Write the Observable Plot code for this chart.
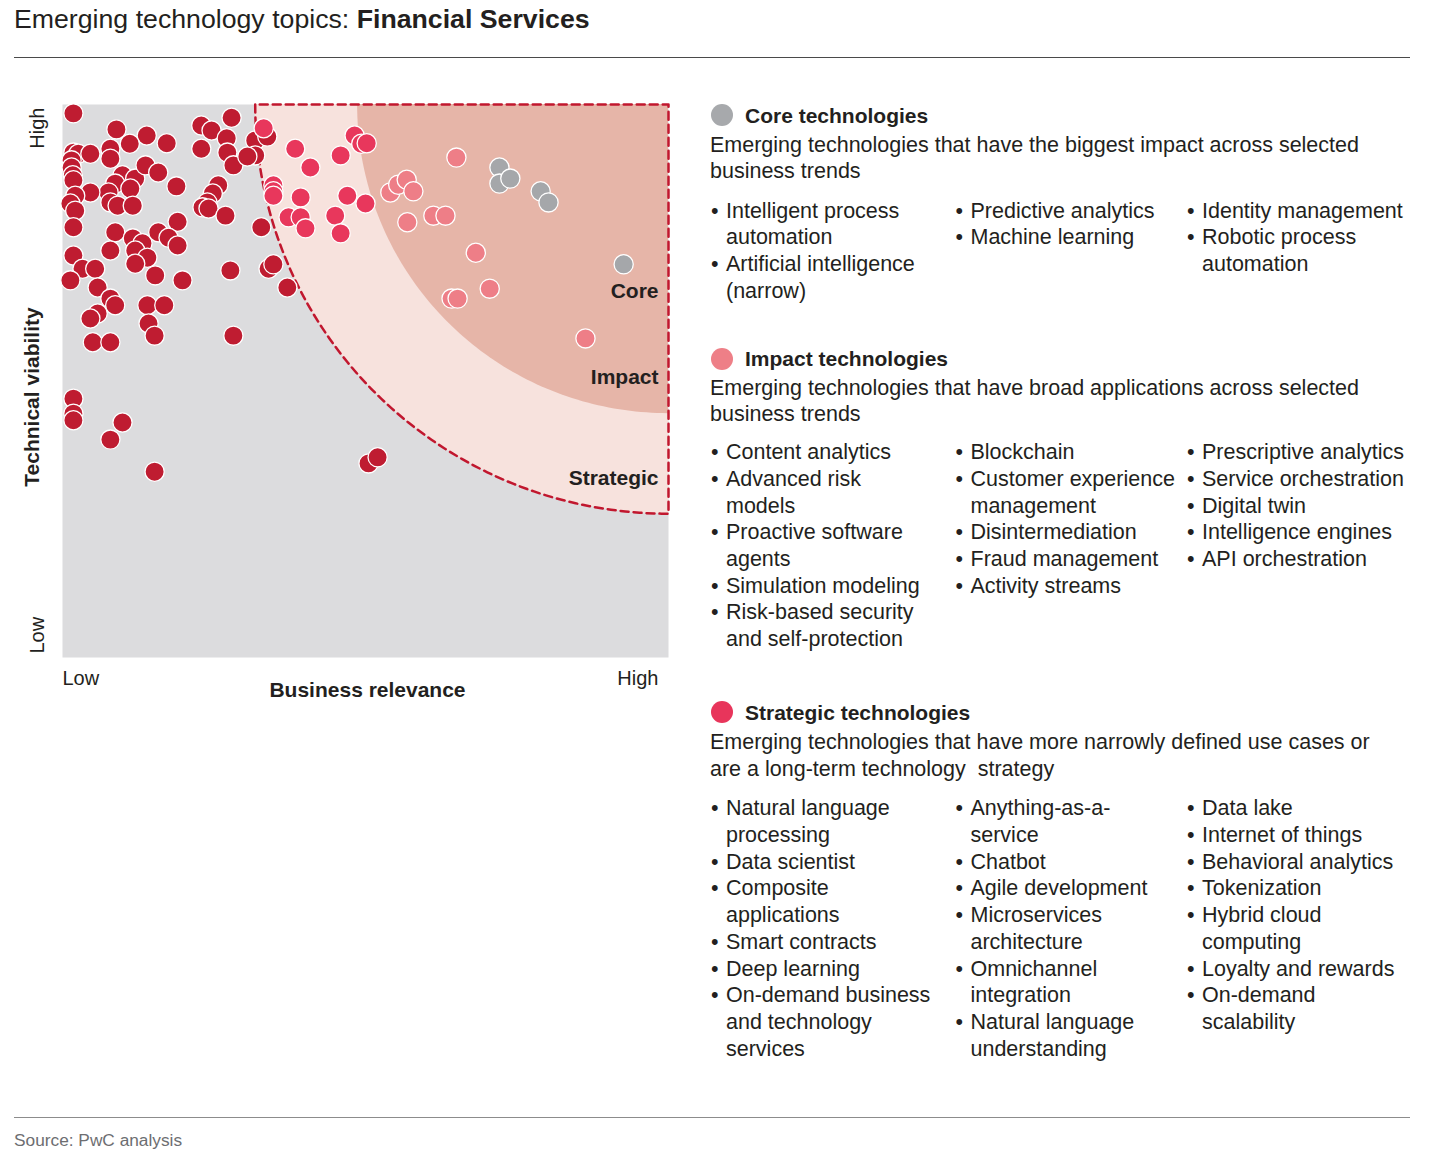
<!DOCTYPE html>
<html>
<head>
<meta charset="utf-8">
<script src="https://cdn.jsdelivr.net/npm/d3@7"></script>
<script src="https://cdn.jsdelivr.net/npm/@observablehq/plot@0.6"></script>
<style>
  html, body { margin: 0; padding: 0; background: #fff; }
  body { font-family: "Liberation Sans", Arial, Helvetica, sans-serif; color: #231f20; }
  #page { position: relative; width: 1438px; height: 1162px; overflow: hidden; }
  .abs { position: absolute; }
  .title { left: 14px; top: 3.5px; font-size: 26.7px; line-height: 31px; white-space: nowrap; }
  .title b { font-weight: bold; }
  .rule { left: 14px; width: 1396px; height: 0; }
  .source { left: 14px; top: 1130px; font-size: 17.3px; line-height: 20px; color: #6d6e71; }
  #chart { left: 0; top: 80px; }
  .head { font-size: 21px; line-height: 26.7px; font-weight: bold; left: 745px; white-space: nowrap; }
  .desc { font-size: 21.5px; line-height: 26.7px; left: 710px; white-space: pre; }
  .col { font-size: 21.5px; line-height: 26.7px; white-space: pre; }
  .item { position: relative; padding-left: 15px; }
  .item::before { content: "\2022"; position: absolute; left: 0; top: 0; }
  .swatch { width: 22px; height: 22px; border-radius: 50%; left: 711px; }
</style>
</head>
<body>
<div id="page">
  <div class="abs title">Emerging technology topics: <b>Financial Services</b></div>
  <div class="abs rule" style="top:57px;border-top:1px solid #4a4a4a"></div>
  <div id="chart" class="abs"></div>
  <div id="legend"></div>
  <div class="abs rule" style="top:1117px;border-top:1.5px solid #8c8c8c"></div>
  <div class="abs source">Source: PwC analysis</div>
</div>
<script>
// ---------- data (x = business relevance, y = technical viability, 0–100) ----------
const otherDots = [
  [1.8,98.4],[27.9,97.6],[8.9,95.5],[13.9,94.4],[11.1,92.9],[17.2,93.0],[7.9,92.0],[7.9,90.2],
  [22.9,96.2],[24.6,95.3],[22.9,92.0],[27.1,93.9],[27.2,91.3],[28.2,89.0],
  [1.8,91.3],[2.6,91.1],[4.6,91.1],[1.5,89.9],[1.5,88.6],[1.7,87.2],[1.8,86.3],
  [9.9,87.2],[12.0,86.6],[13.7,89.0],[15.8,87.7],[8.7,85.7],[11.2,84.8],[7.6,84.1],[4.6,84.1],
  [2.1,83.5],[1.3,82.1],[2.1,80.8],[7.9,82.3],[9.1,81.7],[11.6,81.7],[18.8,85.2],
  [25.7,85.4],[24.8,83.9],[23.9,82.3],[23.1,81.4],[24.1,81.2],[26.9,79.9],
  [1.8,77.8],[32.8,77.8],[19.0,78.8],[8.7,76.9],[11.6,75.8],[13.2,74.9],[15.8,76.9],[17.5,75.9],
  [19.0,74.5],[7.9,73.6],[12.0,73.6],[14.0,72.3],[12.0,71.2],[1.8,72.7],[3.3,70.3],[5.4,70.3],
  [1.3,68.2],[5.8,66.9],[15.3,69.1],[19.8,68.2],[27.7,70.0],[34.0,70.3],[34.8,71.1],
  [7.9,64.9],[8.7,63.7],[5.8,62.2],[4.6,61.3],[5.0,57.0],[7.9,57.0],[14.0,63.7],[16.8,63.7],
  [14.2,60.4],[15.2,58.2],[28.2,58.2],[1.8,46.8],[1.8,44.1],[1.8,42.9],[9.9,42.5],[7.9,39.4],
  [15.2,33.6],[50.5,35.1],[52.0,36.2],[31.8,93.5],[33.8,94.2],[31.8,90.8],[30.5,90.6],[37.1,66.9]
];
const strategicDots = [
  [33.2,95.7],[38.4,92.0],[40.9,88.6],[45.9,90.8],[48.2,94.4],[49.3,92.9],[50.2,93.0],
  [34.8,85.4],[34.8,84.3],[34.8,83.5],[39.3,83.2],[47.0,83.5],[50.0,82.1],
  [37.3,79.6],[39.3,79.6],[40.1,77.6],[45.0,79.9],[45.9,76.7]
];
const impactDots = [
  [65.0,90.4],[54.1,84.1],[55.4,85.5],[56.8,86.4],[57.9,84.3],[56.9,78.7],[61.2,79.9],
  [63.2,79.9],[68.2,73.2],[70.5,66.7],[64.2,64.9],[65.2,64.9],[86.3,57.7]
];
const coreDots = [
  [72.1,88.6],[72.1,85.7],[73.9,86.6],[78.9,84.3],[80.2,82.3],[92.6,71.1]
];
const groups = ["Other", "Strategic", "Impact", "Core"];
const zoneNames = ["Core", "Impact", "Strategic"];
const axisTickLabels = ["Low", "High"];

// legend texts
const sectionTitles = ["Core technologies", "Impact technologies", "Strategic technologies"];
const sectionDescriptions = [
  "Emerging technologies that have the biggest impact across selected\nbusiness trends",
  "Emerging technologies that have broad applications across selected\nbusiness trends",
  "Emerging technologies that have more narrowly defined use cases or\nare a long-term technology  strategy"
];
const coreTopics = [
  ["Intelligent process\nautomation", "Artificial intelligence\n(narrow)"],
  ["Predictive analytics", "Machine learning"],
  ["Identity management", "Robotic process\nautomation"]
];
const impactTopics = [
  ["Content analytics", "Advanced risk\nmodels", "Proactive software\nagents", "Simulation modeling", "Risk-based security\nand self-protection"],
  ["Blockchain", "Customer experience\nmanagement", "Disintermediation", "Fraud management", "Activity streams"],
  ["Prescriptive analytics", "Service orchestration", "Digital twin", "Intelligence engines", "API orchestration"]
];
const strategicTopics = [
  ["Natural language\nprocessing", "Data scientist", "Composite\napplications", "Smart contracts", "Deep learning", "On-demand business\nand technology\nservices"],
  ["Anything-as-a-\nservice", "Chatbot", "Agile development", "Microservices\narchitecture", "Omnichannel\nintegration", "Natural language\nunderstanding"],
  ["Data lake", "Internet of things", "Behavioral analytics", "Tokenization", "Hybrid cloud\ncomputing", "Loyalty and rewards", "On-demand\nscalability"]
];

// ---------- chart ----------
const groupColors = ["#bf1c31", "#e8375c", "#ee7e87", "#a5a7aa"];
const rows = [
  ...otherDots.map(([x, y]) => ({x, y, group: "Other"})),
  ...strategicDots.map(([x, y]) => ({x, y, group: "Strategic"})),
  ...impactDots.map(([x, y]) => ({x, y, group: "Impact"})),
  ...coreDots.map(([x, y]) => ({x, y, group: "Core"}))
];
// zone boundaries: quarter circles (in screen space) around the top-right corner
const arc = (rx, ry) => d3.range(0, 90.5, 1).map(a => {
  const t = a * Math.PI / 180;
  return {x: 100 - rx * Math.cos(t), y: 100 - ry * Math.sin(t)};
});
const outerZone = arc(68.2, 74.0);
const innerZone = arc(51.3, 55.9);
const boundary = [...outerZone, {x: 100, y: 100}, {x: outerZone[0].x, y: 100}];

const chart = Plot.plot({
  width: 700, height: 640,
  marginLeft: 62, marginRight: 32, marginTop: 24, marginBottom: 63,
  x: {domain: [0, 100]},
  y: {domain: [0, 100]},
  color: {domain: groups, range: groupColors},
  style: {fontFamily: '"Liberation Sans", Arial, sans-serif', color: "#231f20", background: "transparent", overflow: "visible"},
  marks: [
    Plot.frame({fill: "#dcdcde"}),
    Plot.areaY(outerZone, {x: "x", y1: "y", y2: 100, fill: "#f7e2dd"}),
    Plot.areaY(innerZone, {x: "x", y1: "y", y2: 100, fill: "#e6b5a8"}),
    Plot.line(boundary, {x: "x", y: "y", stroke: "#c1172e", strokeWidth: 2.5, strokeDasharray: "8,5"}),
    Plot.dot(rows, {x: "x", y: "y", fill: "group", r: 9.6, stroke: "white", strokeWidth: 1.3}),
    Plot.text(zoneNames, {x: 100, y: [66.2, 50.6, 32.5], text: d => d, textAnchor: "end", dx: -10, fontWeight: "bold", fontSize: 21, fill: "#231f20"}),
    Plot.axisX([0], {tickFormat: () => axisTickLabels[0], textAnchor: "start", tickSize: 0, tickPadding: 13, fontSize: 20, label: null, fill: "#231f20"}),
    Plot.axisX([100], {tickFormat: () => axisTickLabels[1], textAnchor: "end", dx: -10, tickSize: 0, tickPadding: 13, fontSize: 20, label: null, fill: "#231f20"}),
    Plot.axisY([0], {tickFormat: () => axisTickLabels[0], rotate: -90, textAnchor: "start", tickSize: 0, tickPadding: 25, dy: -4, fontSize: 20, label: null, fill: "#231f20"}),
    Plot.axisY([100], {tickFormat: () => axisTickLabels[1], rotate: -90, textAnchor: "end", tickSize: 0, tickPadding: 25, dy: 3, fontSize: 20, label: null, fill: "#231f20"}),
    Plot.text(["Technical viability"], {frameAnchor: "left", text: d => d, rotate: -90, textAnchor: "middle", dx: -30, dy: 16, fontWeight: "bold", fontSize: 21, fill: "#231f20"}),
    Plot.text(["Business relevance"], {frameAnchor: "bottom", text: d => d, textAnchor: "middle", dx: 2, dy: 39, fontWeight: "bold", fontSize: 21, fill: "#231f20"})
  ]
});
document.getElementById("chart").appendChild(chart);

// ---------- legend ----------
const legendColors = ["#a7a9ac", "#ee7f87", "#e8355b"];
const layout = [
  {head: 102.7, desc: 131.5, list: 197.5},
  {head: 346.0, desc: 374.5, list: 439.2},
  {head: 699.9, desc: 729.0, list: 795.3}
];
const colLefts = [711, 955.5, 1187];
const topicSets = [coreTopics, impactTopics, strategicTopics];
const legend = document.getElementById("legend");
sectionTitles.forEach((t, i) => {
  const L = layout[i];
  const sw = document.createElement("div");
  sw.className = "abs swatch";
  sw.style.top = (L.head + 12.5 - 11) + "px";
  sw.style.background = legendColors[i];
  legend.appendChild(sw);
  const h = document.createElement("div");
  h.className = "abs head";
  h.style.top = L.head + "px";
  h.textContent = t;
  legend.appendChild(h);
  const d = document.createElement("div");
  d.className = "abs desc";
  d.style.top = L.desc + "px";
  d.textContent = sectionDescriptions[i];
  legend.appendChild(d);
  topicSets[i].forEach((col, c) => {
    const cd = document.createElement("div");
    cd.className = "abs col";
    cd.style.top = L.list + "px";
    cd.style.left = colLefts[c] + "px";
    col.forEach(item => {
      const it = document.createElement("div");
      it.className = "item";
      it.textContent = item;
      cd.appendChild(it);
    });
    legend.appendChild(cd);
  });
});
document.getElementById("page").appendChild(legend);
</script>
</body>
</html>
